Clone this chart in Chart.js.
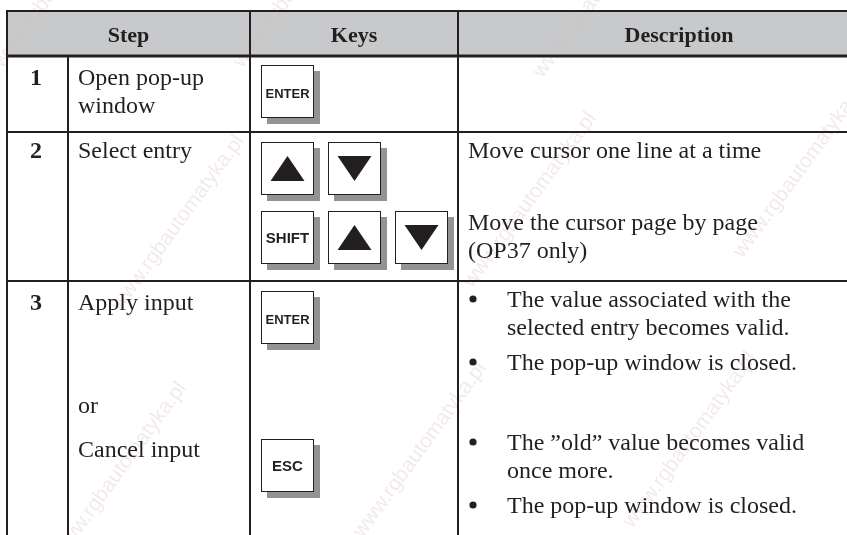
<!DOCTYPE html>
<html><head><meta charset="utf-8">
<script src="https://cdn.jsdelivr.net/npm/chart.js@4"></script>
<style>html,body{margin:0;padding:0;background:#fff}#wrap{width:847px;height:535px}</style>
</head><body><div id="wrap"><canvas id="c" width="847" height="535"></canvas></div>
<script>
// ---- content ----
const headers = ['Step', 'Keys', 'Description'];
const stepNumbers = ['1', '2', '3'];
const stepLines = [['Open pop-up', 'window'], ['Select entry'], ['Apply input', 'or', 'Cancel input']];
const keyGroups = [[['ENTER']], [['UP', 'DOWN'], ['SHIFT', 'UP', 'DOWN']], [['ENTER'], ['ESC']]];
const descPlain = [[], ['Move cursor one line at a time', 'Move the cursor page by page', '(OP37 only)'], []];
const descBullets = [[], [], [
  ['The value associated with the', 'selected entry becomes valid.'],
  ['The pop-up window is closed.'],
  ['The \u201Dold\u201D value becomes valid', 'once more.'],
  ['The pop-up window is closed.']
]];
const watermark = 'www.rgbautomatyka.pl';

// ---- layout (scale units) ----
const L = {
  colEdges: [7, 68, 250, 458, 900],
  rowEdges: [11, 56, 132, 281, 545],
  headerBase: 42,
  stepBase: [[85, 113], [158], [310, 413, 457]],
  keyTops: [[65], [142, 211], [291, 439]],
  keyLeft: 261, keyStep: 67, keySize: 53, shadow: 6,
  descBase: [[], [158, 230, 258], []],
  bulletBase: [[], [], [[307, 335], [370], [450, 478], [513]]],
  textX: 78, numX: 36, descX: 468, bulletX: 473, bulletTextX: 507,
  wmCenters: [[178, 223], [530, 200], [800, 170], [120, 470], [420, 450], [690, 440], [300, -20], [60, -20], [600, -10]]
};

const INK = '#231f20';
const SERIF = '"Liberation Serif","Times New Roman",serif';
const SANS = '"Liberation Sans",Arial,sans-serif';

const tablePlugin = {
  id: 'table',
  beforeDraw(chart) {
    const {ctx, scales: {x, y}} = chart;
    const X = v => x.getPixelForValue(v), Y = v => y.getPixelForValue(v);
    ctx.save();
    ctx.fillStyle = '#fff';
    ctx.fillRect(0, 0, chart.width, chart.height);
    // header fill
    ctx.fillStyle = '#c8c9cb';
    ctx.fillRect(X(L.colEdges[0]), Y(L.rowEdges[0]), X(L.colEdges[4]) - X(L.colEdges[0]), Y(L.rowEdges[1]) - Y(L.rowEdges[0]));
    // watermarks
    ctx.font = '21px ' + SANS;
    ctx.fillStyle = 'rgba(215,190,190,0.32)';
    ctx.textAlign = 'center'; ctx.textBaseline = 'middle';
    L.wmCenters.forEach(([cx, cy]) => {
      ctx.save();
      ctx.translate(X(cx), Y(cy));
      ctx.rotate(-54 * Math.PI / 180);
      ctx.fillText(watermark, 0, 0);
      ctx.restore();
    });
    ctx.restore();
  },
  afterDraw(chart) {
    const {ctx, scales: {x, y}} = chart;
    const X = v => x.getPixelForValue(v), Y = v => y.getPixelForValue(v);
    ctx.save();
    const ce = L.colEdges, re = L.rowEdges;
    // grid
    ctx.strokeStyle = INK;
    const hline = (yv, w) => { ctx.lineWidth = w; ctx.beginPath(); ctx.moveTo(X(ce[0]) - 1, Y(yv)); ctx.lineTo(X(ce[4]), Y(yv)); ctx.stroke(); };
    hline(re[0], 2);
    hline(re[1], 3);
    hline(re[2], 2);
    hline(re[3], 2);
    ctx.lineWidth = 2;
    [ce[0], ce[2], ce[3]].forEach(c => { ctx.beginPath(); ctx.moveTo(X(c), Y(re[0])); ctx.lineTo(X(c), Y(re[4])); ctx.stroke(); });
    ctx.beginPath(); ctx.moveTo(X(ce[1]), Y(re[1])); ctx.lineTo(X(ce[1]), Y(re[4])); ctx.stroke();

    // headers
    ctx.fillStyle = INK;
    ctx.textBaseline = 'alphabetic';
    ctx.textAlign = 'center';
    ctx.font = 'bold 22px ' + SERIF;
    const hc = [(ce[0] + ce[2]) / 2, (ce[2] + ce[3]) / 2, (ce[3] + ce[4]) / 2];
    headers.forEach((h, i) => ctx.fillText(h, X(hc[i]), Y(L.headerBase)));

    // step numbers and labels
    stepNumbers.forEach((n, r) => {
      ctx.font = 'bold 24px ' + SERIF; ctx.textAlign = 'center';
      ctx.fillText(n, X(L.numX), Y(L.stepBase[r][0]));
      ctx.font = '24px ' + SERIF; ctx.textAlign = 'left';
      stepLines[r].forEach((t, k) => ctx.fillText(t, X(L.textX), Y(L.stepBase[r][k])));
    });

    // descriptions
    ctx.font = '24px ' + SERIF; ctx.textAlign = 'left';
    descPlain.forEach((lines, r) => lines.forEach((t, k) => ctx.fillText(t, X(L.descX), Y(L.descBase[r][k]))));
    descBullets.forEach((items, r) => items.forEach((lines, i) => {
      const b0 = L.bulletBase[r][i][0];
      ctx.beginPath(); ctx.arc(X(L.bulletX), Y(b0 - 8), 3.6, 0, Math.PI * 2); ctx.fill();
      lines.forEach((t, k) => ctx.fillText(t, X(L.bulletTextX), Y(L.bulletBase[r][i][k])));
    }));

    // keys
    const drawKey = (label, kx, ky) => {
      const s = L.keySize, px = X(kx), py = Y(ky), w = X(kx + s) - px, h = Y(ky + s) - py, sh = L.shadow;
      ctx.fillStyle = '#939393';
      ctx.fillRect(px + sh, py + sh, w, h);
      ctx.fillStyle = '#fff';
      ctx.fillRect(px, py, w, h);
      ctx.strokeStyle = INK; ctx.lineWidth = 1;
      ctx.strokeRect(px + 0.5, py + 0.5, w - 1, h - 1);
      ctx.fillStyle = INK;
      const cx = px + w / 2, cy = py + h / 2;
      if (label === 'UP' || label === 'DOWN') {
        const tw = 17, th = 12.5, dir = label === 'UP' ? 1 : -1;
        ctx.beginPath();
        ctx.moveTo(cx, cy - dir * th);
        ctx.lineTo(cx + tw, cy + dir * th);
        ctx.lineTo(cx - tw, cy + dir * th);
        ctx.closePath(); ctx.fill();
      } else {
        ctx.font = 'bold ' + (label === 'ENTER' ? 13 : 15) + 'px ' + SANS;
        ctx.textAlign = 'center'; ctx.textBaseline = 'middle';
        ctx.fillText(label, cx, cy + (label === 'ENTER' ? 3 : 1));
        ctx.textBaseline = 'alphabetic';
      }
    };
    keyGroups.forEach((groups, r) => groups.forEach((keys, g) => keys.forEach((k, i) => {
      drawKey(k, L.keyLeft + i * L.keyStep, L.keyTops[r][g]);
    })));
    ctx.restore();
  }
};

new Chart(document.getElementById('c'), {
  type: 'scatter',
  data: {datasets: [{data: [], pointRadius: 0}]},
  options: {
    responsive: false, animation: false,
    layout: {padding: 0},
    scales: {
      x: {type: 'linear', min: 0, max: 847, display: false},
      y: {type: 'linear', min: 0, max: 535, reverse: true, display: false}
    },
    plugins: {legend: {display: false}, tooltip: {enabled: false}}
  },
  plugins: [tablePlugin]
});
</script></body></html>
